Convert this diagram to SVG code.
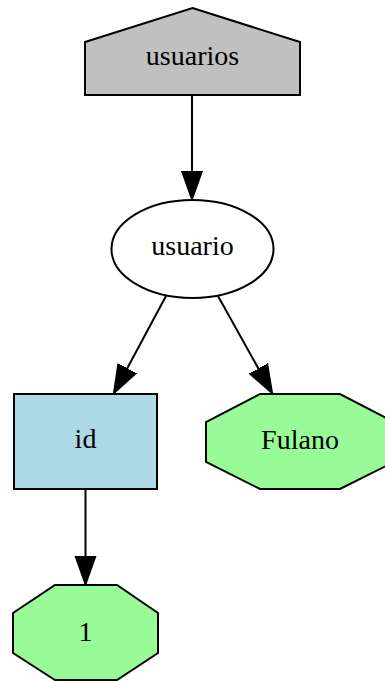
<svg xmlns="http://www.w3.org/2000/svg" width="385" height="681" viewBox="0 0 385 681">
  <defs>
    <style>
      .node { stroke: #000; stroke-width: 2; }
      .edge { stroke: #000; stroke-width: 2; fill: none; marker-end: url(#arrow); }
      text { font-family: "Liberation Serif", "Times New Roman", serif; font-size: 28px; text-anchor: middle; fill: #000; }
    </style>
    <marker id="arrow" markerUnits="userSpaceOnUse" markerWidth="30" markerHeight="24" refX="28" refY="11" orient="auto" viewBox="0 0 30 22">
      <polygon points="0,1 28,11 0,21" fill="#000" stroke="#000" stroke-width="2"/>
    </marker>
  </defs>
  <rect width="385" height="681" fill="#fff"/>

  <g id="edges">
    <line class="edge" x1="192" y1="95" x2="192" y2="199"/>
    <line class="edge" x1="166" y1="296" x2="114" y2="393"/>
    <line class="edge" x1="218" y1="296" x2="272" y2="393"/>
    <line class="edge" x1="85.5" y1="489" x2="85.5" y2="584"/>
  </g>

  <g id="usuarios">
    <polygon class="node" points="192.5,8 300,42 300,95 85,95 85,42" fill="#c0c0c0"/>
    <text x="192.5" y="65">usuarios</text>
  </g>

  <g id="usuario">
    <ellipse class="node" cx="192.5" cy="249" rx="81" ry="49" fill="#fff"/>
    <text x="192.5" y="255">usuario</text>
  </g>

  <g id="id">
    <rect class="node" x="14" y="394" width="143" height="95" fill="#add8e6"/>
    <text x="85.5" y="448">id</text>
  </g>

  <g id="Fulano">
    <polygon class="node" points="260,394 340,394 394,422 394,462 340,489 260,489 206,462 206,422" fill="#98fb98"/>
    <text x="300" y="449">Fulano</text>
  </g>

  <g id="value1">
    <polygon class="node" points="55,585 117,585 158,613 158,653 117,680 55,680 13,653 13,613" fill="#98fb98"/>
    <text x="85.5" y="641">1</text>
  </g>
</svg>
